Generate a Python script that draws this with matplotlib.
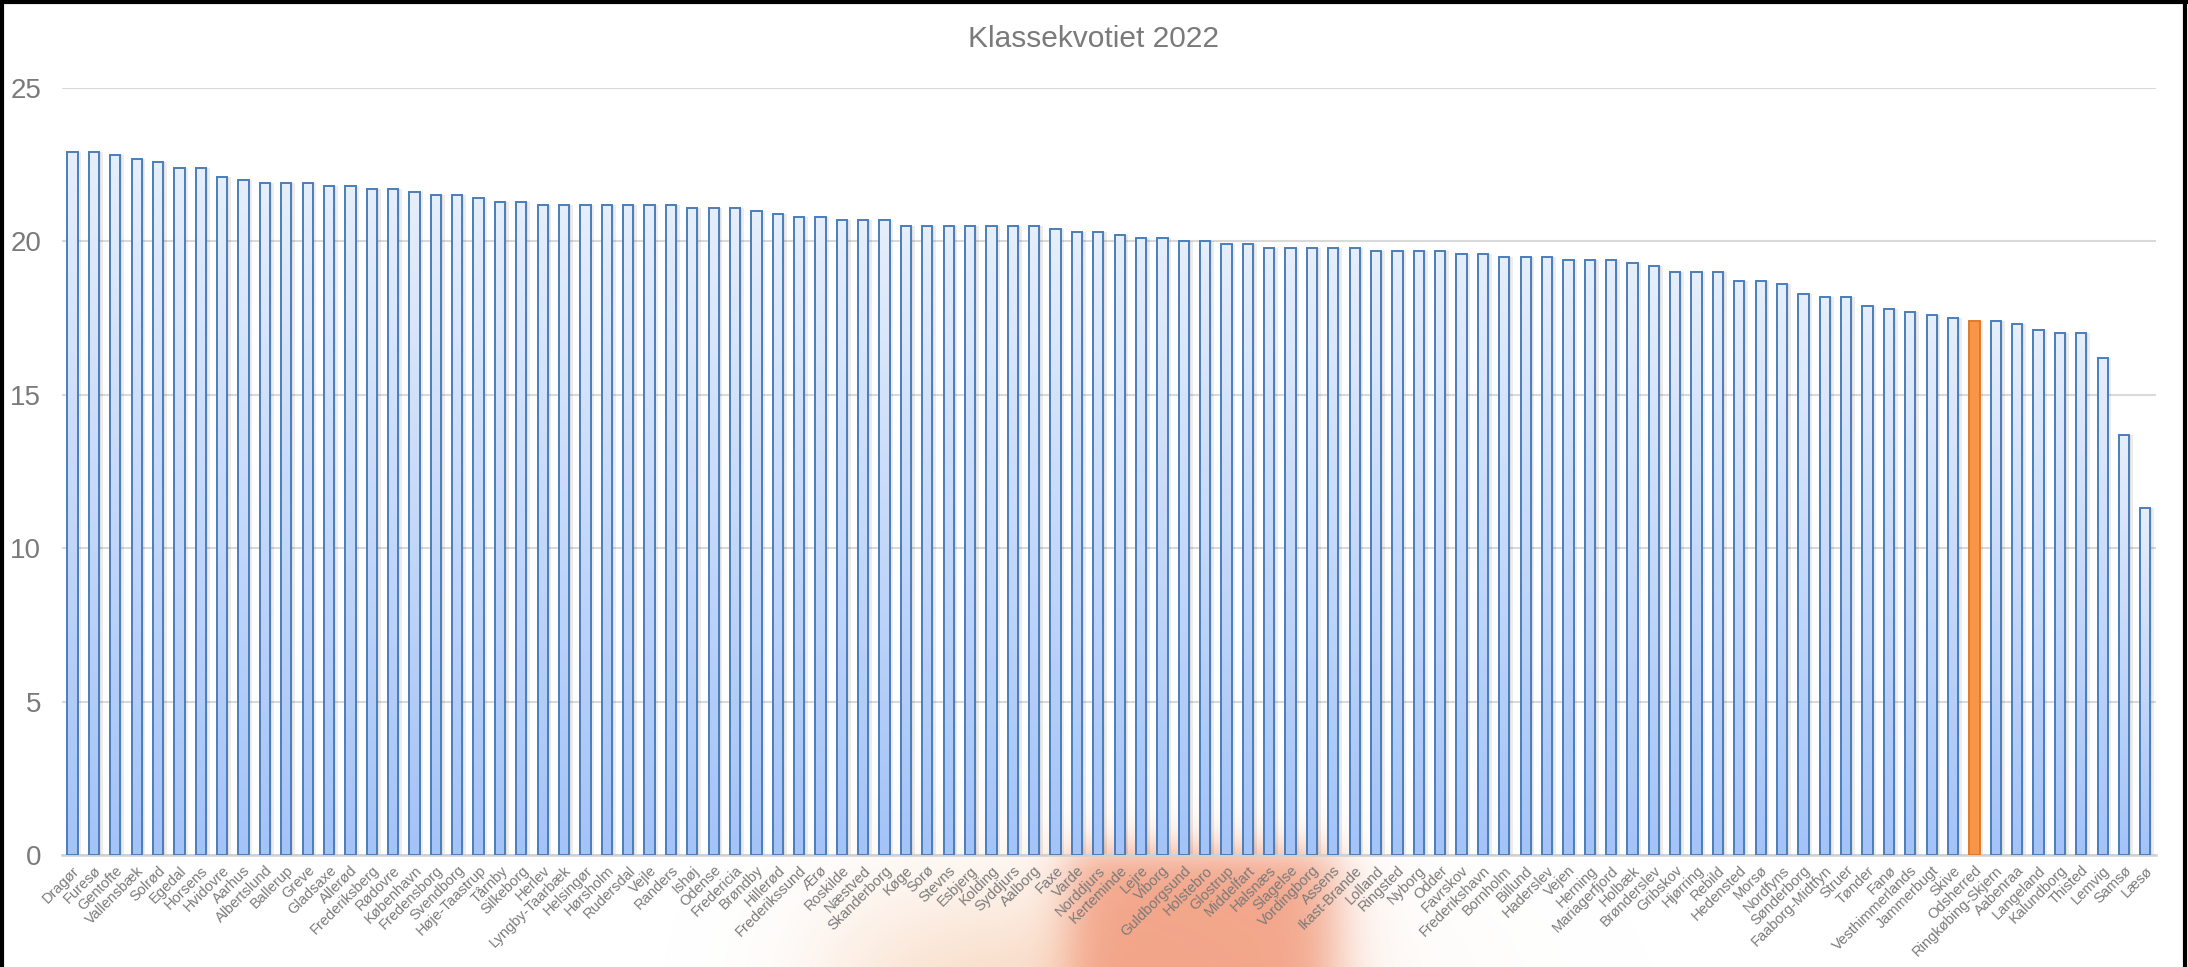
import numpy as np
import matplotlib
matplotlib.use("Agg")
import matplotlib.pyplot as plt
from matplotlib.colors import LinearSegmentedColormap
from matplotlib.lines import Line2D

kommuner = [
    "Dragør", "Furesø", "Gentofte", "Vallensbæk", "Solrød", "Egedal", "Horsens",
    "Hvidovre", "Aarhus", "Albertslund", "Ballerup", "Greve", "Gladsaxe", "Allerød",
    "Frederiksberg", "Rødovre", "København", "Fredensborg", "Svendborg",
    "Høje-Taastrup", "Tårnby", "Silkeborg", "Herlev", "Lyngby-Taarbæk", "Helsingør",
    "Hørsholm", "Rudersdal", "Vejle", "Randers", "Ishøj", "Odense", "Fredericia",
    "Brøndby", "Hillerød", "Frederikssund", "Ærø", "Roskilde", "Næstved",
    "Skanderborg", "Køge", "Sorø", "Stevns", "Esbjerg", "Kolding", "Syddjurs",
    "Aalborg", "Faxe", "Varde", "Norddjurs", "Kerteminde", "Lejre", "Viborg",
    "Guldborgsund", "Holstebro", "Glostrup", "Middelfart", "Halsnæs", "Slagelse",
    "Vordingborg", "Assens", "Ikast-Brande", "Lolland", "Ringsted", "Nyborg",
    "Odder", "Favrskov", "Frederikshavn", "Bornholm", "Billund", "Haderslev",
    "Vejen", "Herning", "Mariagerfjord", "Holbæk", "Brønderslev", "Gribskov",
    "Hjørring", "Rebild", "Hedensted", "Morsø", "Nordfyns", "Sønderborg",
    "Faaborg-Midtfyn", "Struer", "Tønder", "Fanø", "Vesthimmerlands", "Jammerbugt",
    "Skive", "Odsherred", "Ringkøbing-Skjern", "Aabenraa", "Langeland",
    "Kalundborg", "Thisted", "Lemvig", "Samsø", "Læsø",
]
kvotient = [
    22.9, 22.9, 22.8, 22.7, 22.6, 22.4, 22.4, 22.1, 22.0, 21.9, 21.9, 21.9,
    21.8, 21.8, 21.7, 21.7, 21.6, 21.5, 21.5, 21.4, 21.3, 21.3, 21.2, 21.2,
    21.2, 21.2, 21.2, 21.2, 21.2, 21.1, 21.1, 21.1, 21.0, 20.9, 20.8, 20.8,
    20.7, 20.7, 20.7, 20.5, 20.5, 20.5, 20.5, 20.5, 20.5, 20.5, 20.4, 20.3,
    20.3, 20.2, 20.1, 20.1, 20.0, 20.0, 19.9, 19.9, 19.8, 19.8, 19.8, 19.8,
    19.8, 19.7, 19.7, 19.7, 19.7, 19.6, 19.6, 19.5, 19.5, 19.5, 19.4, 19.4,
    19.4, 19.3, 19.2, 19.0, 19.0, 19.0, 18.7, 18.7, 18.6, 18.3, 18.2, 18.2,
    17.9, 17.8, 17.7, 17.6, 17.5, 17.4, 17.4, 17.3, 17.1, 17.0, 17.0, 16.2,
    13.7, 11.3,
]
fremhaevet = "Odsherred"
yticks = [0, 5, 10, 15, 20, 25]

grey_txt = "#7a7a7a"
edge_blue = "#4a7ebb"
blue_grad = LinearSegmentedColormap.from_list("bl", ["#a4c3f7", "#e6eefb"])

W, H = 2188, 967
fig = plt.figure(figsize=(W / 100, H / 100), dpi=100)

# blurred orange/peach smudge behind the labels, as in the screenshot
yy, xx = np.mgrid[0:H, 0:W].astype(float)
sig = lambda t: 1 / (1 + np.exp(-t))
a_salmon = (sig((xx - 1068) / 14) * sig((1335 - xx) / 16) * sig((yy - 850) / 12)) * 0.9
a_peach = np.exp(-((xx - 1030) / 270) ** 2 - ((yy - 1000) / 120) ** 2) * 0.85
a_peach *= sig((xx - 800) / 40)
a_tot = 1 - (1 - a_salmon) * (1 - a_peach)
col = np.zeros((H, W, 4))
salmon = np.array([242, 158, 128]) / 255
peach = np.array([249, 216, 192]) / 255
mix = (a_salmon[..., None] * salmon + a_peach[..., None] * (1 - a_salmon[..., None]) * peach)
col[..., :3] = np.where(a_tot[..., None] > 1e-6, mix / np.maximum(a_tot[..., None], 1e-6), 1)
col[..., 3] = a_tot
bg = fig.add_axes([0, 0, 1, 1], zorder=-1)
bg.imshow(col, extent=[0, W, H, 0], aspect="auto")
bg.set_axis_off()

ax = fig.add_axes([0.0283, 0.1158, 0.9571, 0.7932])
ax.patch.set_alpha(0)

x = np.arange(len(kommuner))
w = 0.48

# soft shadow behind the bars
ax.bar(x + 0.12, kvotient, width=w + 0.1, color="#000000", alpha=0.07, zorder=1)
ax.bar(x + 0.07, kvotient, width=w + 0.02, color="#000000", alpha=0.06, zorder=1)

bars = ax.bar(x, kvotient, width=w, facecolor="none", edgecolor=edge_blue,
              linewidth=1.4, zorder=3)
grad = np.linspace(0, 1, 100).reshape(-1, 1)
for name, b in zip(kommuner, bars):
    x0, h = b.get_x(), b.get_height()
    if name == fremhaevet:
        b.set_facecolor("#f79646")
        b.set_edgecolor("#e07a2c")
        continue
    ax.imshow(grad, extent=[x0, x0 + b.get_width(), 0, h], origin="lower",
              cmap=blue_grad, aspect="auto", zorder=2)

ax.set_xlim(-0.5, len(kommuner) - 0.5)
ax.set_ylim(0, 25)
ax.set_yticks(yticks)
ax.set_xticks(x)
ax.set_xticklabels(kommuner, rotation=45, ha="right", rotation_mode="anchor",
                   fontsize=10.5, color=grey_txt, family="Liberation Sans")
ax.tick_params(axis="x", length=0, pad=6)
ax.tick_params(axis="y", length=0, pad=15, labelsize=20, labelcolor=grey_txt)
for lab in ax.get_yticklabels():
    lab.set_family("Liberation Sans")

ax.grid(axis="y", color="#d9d9d9", linewidth=1.5, zorder=0)
ax.set_axisbelow(True)
for s in ["top", "right", "left"]:
    ax.spines[s].set_visible(False)
ax.spines["bottom"].set_color("#d0d0d0")
ax.spines["bottom"].set_linewidth(1.8)

fig.text(0.5, 0.96, "Klassekvotiet 2022", ha="center", va="center",
         fontsize=21.5, color=grey_txt, family="Liberation Sans")

# frame round the picture (top, left, right)
for xs, ys in [([0, 1], [0.998, 0.998]), ([0.0007, 0.0007], [0, 1]),
               ([0.9988, 0.9988], [0, 1])]:
    fig.add_artist(Line2D(xs, ys, color="black", linewidth=3,
                          transform=fig.transFigure))

fig.savefig("out.png", dpi=100)
